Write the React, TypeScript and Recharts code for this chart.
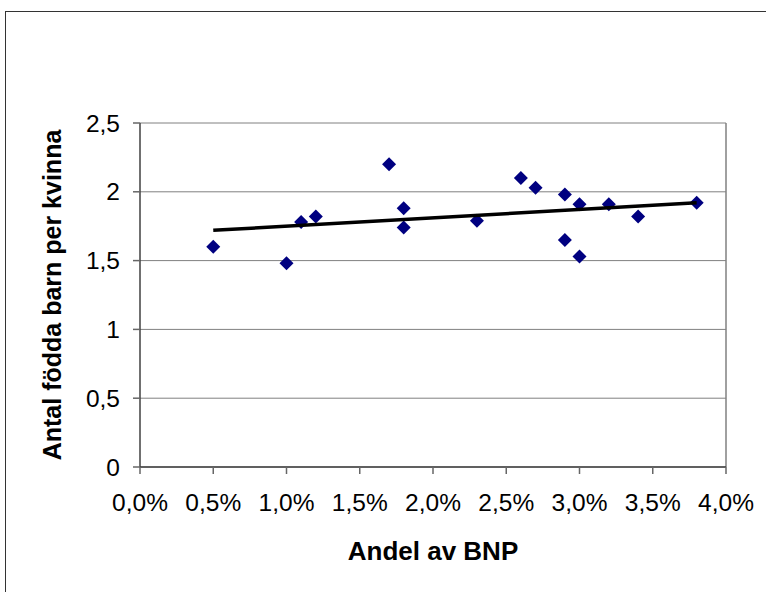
import { ScatterChart, Scatter, XAxis, YAxis, CartesianGrid, ReferenceLine, Label } from "recharts";

// andel av BNP (%)
const bnpShare = [0.5, 1.0, 1.1, 1.2, 1.7, 1.8, 1.8, 2.3, 2.6, 2.7, 2.9, 2.9, 3.0, 3.0, 3.2, 3.4, 3.8];
// antal födda barn per kvinna
const birthRate = [1.6, 1.48, 1.78, 1.82, 2.2, 1.88, 1.74, 1.79, 2.1, 2.03, 1.98, 1.65, 1.91, 1.53, 1.91, 1.82, 1.92];

// linear trend, end points
const trendX = [0.5, 3.8];
const trendY = [1.72, 1.92];

const xTicks = [0, 0.5, 1, 1.5, 2, 2.5, 3, 3.5, 4];
const yTicks = [0, 0.5, 1, 1.5, 2, 2.5];

const points = bnpShare.map((x, i) => ({ x, y: birthRate[i] }));
const trend = trendX.map((x, i) => ({ x, y: trendY[i] }));

const FONT = '"Liberation Sans", Arial, sans-serif';
const GRID = "#808080";
const AXIS = "#404040";

const fmtPct = (v: number) => `${v.toFixed(1).replace(".", ",")}%`;
const fmtNum = (v: number) => String(v).replace(".", ",");

const Diamond = (props: any) => {
  const { cx, cy } = props;
  const r = 7;
  return (
    <polygon
      points={`${cx},${cy - r} ${cx + r},${cy} ${cx},${cy + r} ${cx - r},${cy}`}
      fill="#000080"
    />
  );
};

export default function App() {
  return (
    <div style={{ position: "absolute", left: 0, top: 0, width: 766, height: 592, overflow: "hidden", background: "#fff" }}>
      <div
        style={{
          position: "absolute",
          left: 5,
          top: 11,
          width: 800,
          height: 700,
          borderLeft: "1.5px solid #333",
          borderTop: "1.5px solid #333",
        }}
      />
      <div style={{ position: "absolute", left: 0, top: 0 }}>
        <ScatterChart width={766} height={592} margin={{ top: 123, right: 40, bottom: 25, left: 40 }}>
          <CartesianGrid horizontal vertical={false} stroke={GRID} strokeWidth={1} />
          <ReferenceLine x={4} stroke={GRID} strokeWidth={1.5} />
          <XAxis
            type="number"
            dataKey="x"
            domain={[0, 4]}
            ticks={xTicks}
            tickFormatter={fmtPct}
            interval={0}
            height={100}
            stroke={AXIS}
            strokeWidth={1.5}
            tickSize={7}
            tickMargin={20}
            tickLine={{ stroke: "#666" }}
            tick={{ fill: "#000", fontSize: 24.5, fontFamily: FONT }}
          >
            <Label
              value="Andel av BNP"
              position="insideBottom"
              offset={7}
              style={{ fill: "#000", fontSize: 26, fontWeight: "bold", fontFamily: FONT }}
            />
          </XAxis>
          <YAxis
            type="number"
            dataKey="y"
            domain={[0, 2.5]}
            ticks={yTicks}
            tickFormatter={fmtNum}
            interval={0}
            width={100}
            stroke={AXIS}
            strokeWidth={1.5}
            tickSize={7}
            tickMargin={13}
            tickLine={{ stroke: "#666" }}
            tick={{ fill: "#000", fontSize: 24.5, fontFamily: FONT }}
          >
            <Label
              value="Antal födda barn per kvinna"
              angle={-90}
              position="insideLeft"
              offset={12}
              style={{ textAnchor: "middle", fill: "#000", fontSize: 25, fontWeight: "bold", fontFamily: FONT }}
            />
          </YAxis>
          <Scatter data={points} shape={Diamond} isAnimationActive={false} />
          <Scatter
            data={trend}
            line={{ stroke: "#000", strokeWidth: 3.5 }}
            shape={() => <g />}
            isAnimationActive={false}
          />
        </ScatterChart>
      </div>
    </div>
  );
}
